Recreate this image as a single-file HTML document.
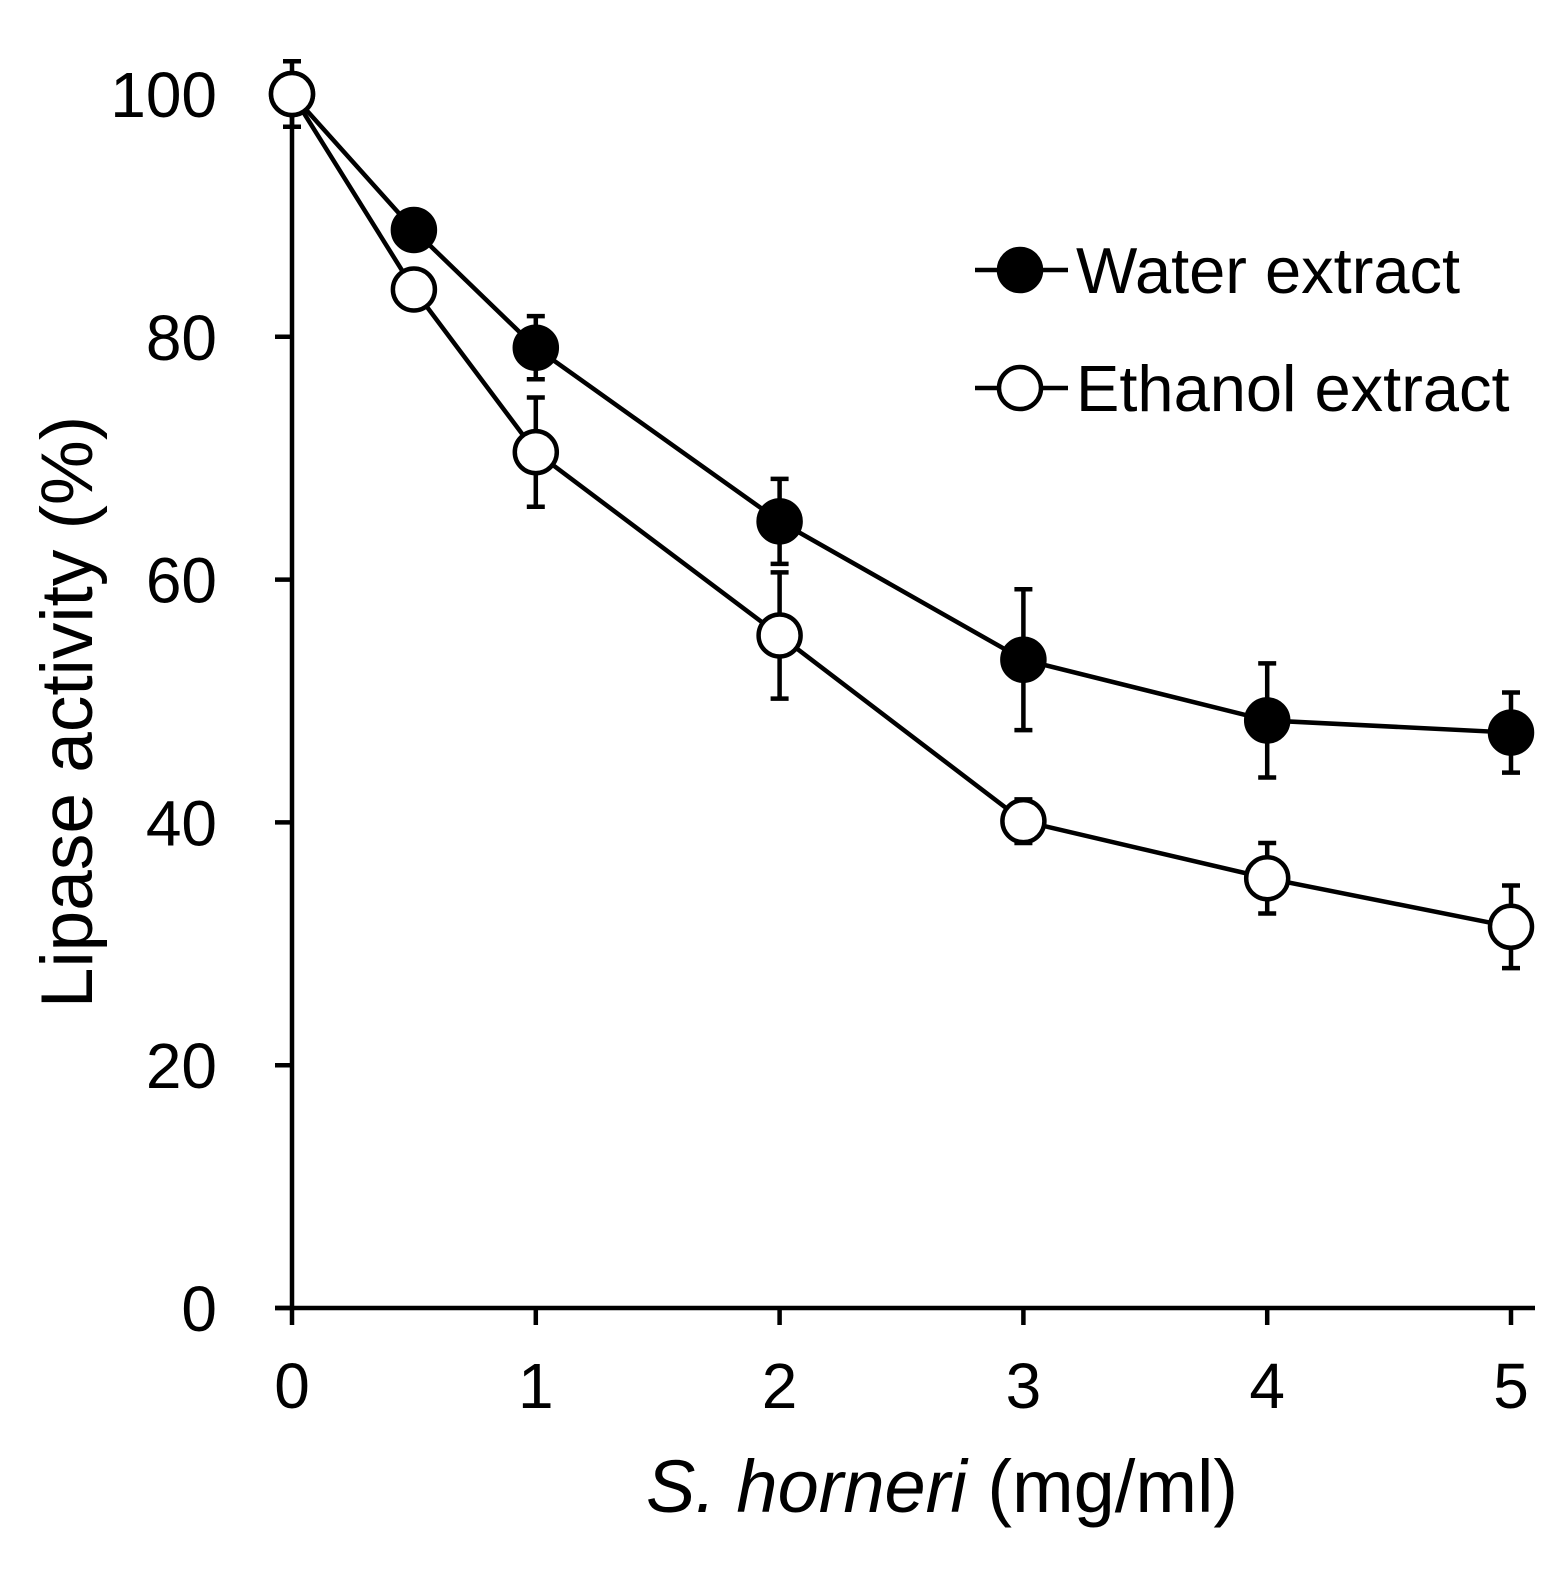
<!DOCTYPE html>
<html><head><meta charset="utf-8">
<style>
html,body{margin:0;padding:0;background:#fff;}
svg{display:block;font-family:"Liberation Sans",Arial,sans-serif;}
</style></head>
<body>
<svg id="chart" width="1564" height="1572" viewBox="0 0 1564 1572" xmlns="http://www.w3.org/2000/svg">
<g id="axes"></g>
<g id="series"></g>
<g id="legend">
  <line x1="975" y1="270" x2="1068" y2="270" stroke="#000" stroke-width="4.5"/>
  <circle cx="1020" cy="270" r="21" fill="#000" stroke="#000" stroke-width="4.5"/>
  <text x="1076" y="293" font-size="65">Water extract</text>
  <line x1="975" y1="388" x2="1068" y2="388" stroke="#000" stroke-width="4.5"/>
  <circle cx="1020" cy="388" r="21" fill="#fff" stroke="#000" stroke-width="4.5"/>
  <text x="1076" y="411" font-size="65">Ethanol extract</text>
</g>
<text transform="translate(92,712) rotate(-90)" text-anchor="middle" font-size="73">Lipase activity (%)</text>
<text x="942" y="1512" text-anchor="middle" font-size="74"><tspan font-style="italic">S. horneri</tspan> (mg/ml)</text>
</svg>
<script>
const xValues = [0, 0.5, 1, 2, 3, 4, 5];
const waterValues = [100, 88.8, 79.1, 64.8, 53.4, 48.4, 47.4];
const waterErrors = [1, 1, 2.6, 3.5, 5.8, 4.7, 3.3];
const ethanolValues = [100, 83.9, 70.5, 55.4, 40.1, 35.4, 31.4];
const ethanolErrors = [2.7, 1, 4.5, 5.2, 1.8, 2.9, 3.4];
const yTicks = [0, 20, 40, 60, 80, 100];
const xTicks = [0, 1, 2, 3, 4, 5];

const NS = "http://www.w3.org/2000/svg";
function xs(v){ return 292 + v * 243.8; }
function ys(v){ return 1308 - v * 12.14; }
function mk(tag, attrs, parent){
  const e = document.createElementNS(NS, tag);
  for (const k in attrs) e.setAttribute(k, attrs[k]);
  parent.appendChild(e); return e;
}
const axes = document.getElementById('axes');
const series = document.getElementById('series');

let el = mk('line', {x1:292, y1:ys(100), x2:292, y2:1308, stroke:'#000','stroke-width':4.5}, axes);


el = mk('line', {x1:275, y1:1308, x2:1535, y2:1308, stroke:'#000','stroke-width':4.5}, axes);



yTicks.forEach(t => {
  const tk = mk('line', {x1:275, y1:ys(t), x2:292, y2:ys(t), stroke:'#000','stroke-width':4.5}, axes);
  
  
  const lb = mk('text', {x:217, y:ys(t)+23, 'text-anchor':'end','font-size':64}, axes);
  lb.textContent = t;
  
  
});
xTicks.forEach(t => {
  const tk = mk('line', {x1:xs(t), y1:1308, x2:xs(t), y2:1325, stroke:'#000','stroke-width':4.5}, axes);
  
  
  const lb = mk('text', {x:xs(t), y:1408, 'text-anchor':'middle','font-size':64}, axes);
  lb.textContent = t;
  
  
});

function drawSeries(vals, errs, fill, name){
  const g = mk('g', {}, series);
  
  
  const pts = vals.map((v,i)=>xs(xValues[i])+','+ys(v)).join(' ');
  const pl = mk('polyline', {points:pts, fill:'none', stroke:'#000','stroke-width':4.5}, g);
  
  
  vals.forEach((v,i)=>{
    const x = xs(xValues[i]);
    const e = errs[i];
    const eb = mk('path', {d:`M${x},${ys(v+e)}V${ys(v-e)}M${x-9},${ys(v+e)}H${x+9}M${x-9},${ys(v-e)}H${x+9}`, stroke:'#000','stroke-width':4.5, fill:'none'}, g);
    
    
  });
  vals.forEach((v,i)=>{
    const c = mk('circle', {cx:xs(xValues[i]), cy:ys(v), r:21, fill:fill, stroke:'#000','stroke-width':4.5}, g);
    
    
  });
}
drawSeries(waterValues, waterErrors, '#000', 'water');
drawSeries(ethanolValues, ethanolErrors, '#fff', 'ethanol');
</script>
</body></html>
